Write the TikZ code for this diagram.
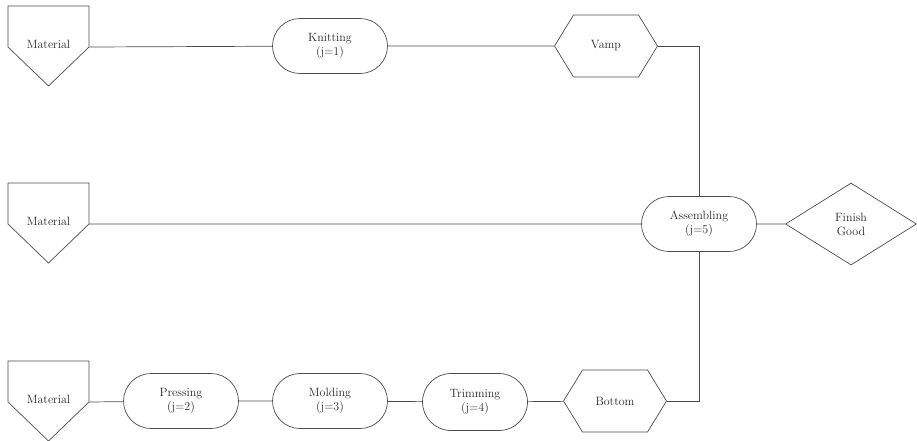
\documentclass[tikz,border=0pt]{standalone}
\usepackage{tikz}
\usetikzlibrary{shapes.geometric,shapes.misc,shapes.symbols}

\begin{document}
\begin{tikzpicture}[
  x=1pt, y=-1pt,
  every node/.style={font=\large, text=black!85},
  line/.style={draw=black!70, line width=0.7pt},
  proc/.style={line, rounded rectangle, minimum width=115pt,
    minimum height=55pt, align=center, inner sep=0pt},
  part/.style={line, signal, signal to=east and west, signal pointer angle=117,
    minimum width=103pt, minimum height=62pt, inner sep=0pt},
  prod/.style={line, diamond, minimum width=131pt, minimum height=82pt,
    align=center, inner sep=0pt}
]
  \useasboundingbox (0,0) rectangle (917,440);
  % materiali (pentagoni)
  \node (mat1) at (48.5,44)  {Material};
  \node (mat2) at (48.5,221) {Material};
  \node (mat3) at (48.5,399) {Material};
  \foreach \m in {mat1,mat2,mat3}
    \draw[line] ([shift={(-40.5,-38)}]\m.center) -- ++(81,0) -- ++(0,41) coordinate (\m-r)
      -- ++(-40.5,39) -- ++(-40.5,-39) -- cycle;
  % riga superiore: tomaia
  \node[proc] (knit) at (330,46) {Knitting\\(j=1)};
  \node[part] (vamp) at (606,46) {Vamp};
  % riga centrale: assemblaggio
  \node[proc] (asm)  at (699,224) {Assembling\\(j=5)};
  \node[prod] (fin)  at (851,224) {Finish\\Good};
  % riga inferiore: suola
  \node[proc] (press) at (181,401) {Pressing\\(j=2)};
  \node[proc] (mold)  at (330,401) {Molding\\(j=3)};
  \node[proc, minimum width=105pt, minimum height=57pt] (trim) at (475,402) {Trimming\\(j=4)};
  \node[part] (bot)  at (615,401) {Bottom};
  % collegamenti
  \draw[line] (mat1-r) -- (knit) -- (vamp);
  \draw[line] (vamp.east) -| (asm.north);
  \draw[line] (mat2-r) -- (asm) -- (fin);
  \draw[line] (mat3-r) -- (press) -- (mold) -- (trim) -- (bot);
  \draw[line] (bot.east) -| (asm.south);
\end{tikzpicture}
\end{document}
